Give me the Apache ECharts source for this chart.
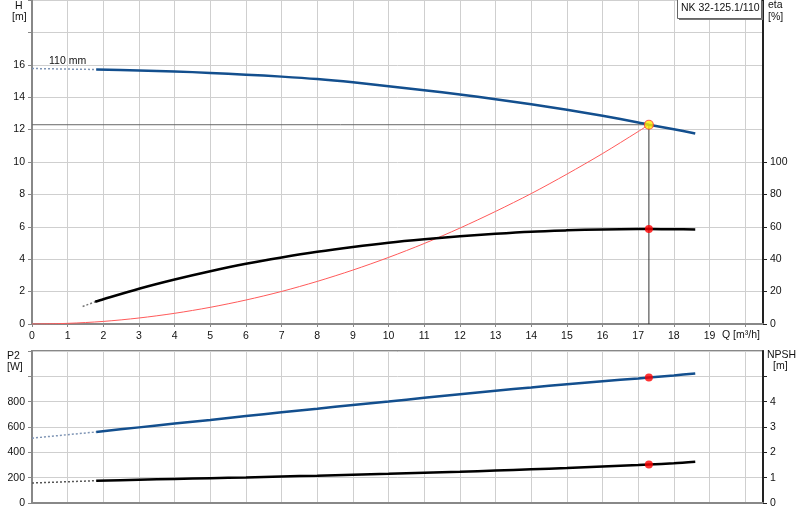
<!DOCTYPE html>
<html><head><meta charset="utf-8">
<script src="https://cdn.jsdelivr.net/npm/echarts@6/dist/echarts.min.js"></script>
<style>html,body{margin:0;padding:0;background:#fff}#c{width:800px;height:520px}</style>
</head><body><div id="c"></div><script>
// ---- data ----
const qTicks = [0,1,2,3,4,5,6,7,8,9,10,11,12,13,14,15,16,17,18,19];
const hTicks = [0,2,4,6,8,10,12,14,16];
const etaTicks = [0,20,40,60,80,100];
const p2Ticks = [0,200,400,600,800];
const npshTicks = [0,1,2,3,4];

const qCurve = [1.8,3,4,5,6,7,8,9,10,11,12,13,14,15,16,17,17.3,18,18.6];
const head   = [15.71,15.65,15.59,15.5,15.39,15.27,15.12,14.92,14.68,14.43,14.17,13.87,13.56,13.22,12.85,12.44,12.3,12.02,11.76];
const qHeadExt = [0,1.8];
const headExt  = [15.77,15.71];

const qEta = [1.77,2,3,4,5,6,7,8,9,10,11,12,13,14,15,16,17,17.3,18,18.6];
const eta  = [13.7,15.3,21.8,27.5,32.6,37.2,41.1,44.6,47.6,50.2,52.3,54.1,55.7,57.0,57.8,58.4,58.6,58.6,58.5,58.4];
const qEtaExt = [1.42,1.77];
const etaExt  = [10.8,13.7];

const qSys = [0,1,2,3,4,5,6,7,8,9,10,11,12,13,14,15,16,17,17.3];
const hSys = [0,0.04,0.16,0.37,0.66,1.03,1.48,2.01,2.63,3.33,4.11,4.97,5.92,6.95,8.05,9.25,10.52,11.88,12.3];

const p2     = [561,597,627,656,686,716,745,774,801,830,858,886,912,938,962,983,990,1007,1023];
const qP2Ext = [0,1.8];
const p2Ext  = [512,561];

const npsh    = [0.88,0.92,0.95,0.98,1.01,1.05,1.08,1.12,1.15,1.19,1.23,1.28,1.33,1.38,1.44,1.50,1.52,1.57,1.63];
const npshExt = [0.79,0.88];

const dutyQ = 17.3, dutyH = 12.3, dutyEta = 58.6, dutyP2 = 990, dutyNpsh = 1.52;

// ---- chart ----
const zip = (a,b) => a.map((v,i)=>[v,b[i]]);
const FONT = 'Liberation Sans, Arial, sans-serif';
const BLUE = '#134f8e';
const AX = '#888';
const GRIDC = '#cfcfcf';
const lbl = {color:'#111', fontSize:10.5, fontFamily:FONT};

const chart = echarts.init(document.getElementById('c'), null, {renderer:'canvas'});
const xBase = (gi, showLabels) => ({
  type:'value', gridIndex:gi, min:0, max:20.5, interval:1,
  axisLine:{show:true, onZero:false, lineStyle:{color:AX, width:2}},
  axisTick:{show:showLabels, length:3, lineStyle:{color:AX}, customValues:[...qTicks,20]},
  axisLabel:showLabels ? Object.assign({margin:7, customValues:qTicks}, lbl) : {show:false},
  splitLine:{show:true, lineStyle:{color:GRIDC, width:1}}
});

const line = (data, x, y, color, width, extra) => Object.assign({
  type:'line', xAxisIndex:x, yAxisIndex:y, data, symbol:'none', smooth:0.3,
  lineStyle:{color, width}, itemStyle:{color}, silent:true, animation:false
}, extra||{});

chart.setOption({
  animation:false,
  textStyle:{fontFamily:FONT},
  grid:[
    {left:32, right:37, top:0, height:324, show:true, borderColor:AX, borderWidth:1, backgroundColor:'transparent'},
    {left:32, right:37, top:351, height:152, show:true, borderColor:AX, borderWidth:2, backgroundColor:'transparent'}
  ],
  xAxis:[xBase(0,true), xBase(1,false)],
  yAxis:[
    {type:'value', gridIndex:0, min:0, max:20, interval:2,
     axisLine:{show:true, lineStyle:{color:AX, width:2}},
     axisTick:{show:true, length:4, lineStyle:{color:AX}},
     axisLabel:Object.assign({margin:7, customValues:hTicks}, lbl),
     splitLine:{show:true, lineStyle:{color:GRIDC}}},
    {type:'value', gridIndex:0, position:'right', min:0, max:200, interval:20,
     axisLine:{show:true, lineStyle:{color:'#222', width:2}},
     axisTick:{show:true, length:4, lineStyle:{color:'#222'}, customValues:etaTicks},
     axisLabel:Object.assign({margin:7, customValues:etaTicks}, lbl),
     splitLine:{show:false}},
    {type:'value', gridIndex:1, min:0, max:1200, interval:200,
     axisLine:{show:true, lineStyle:{color:AX, width:2}},
     axisTick:{show:true, length:4, lineStyle:{color:AX}},
     axisLabel:Object.assign({margin:7, customValues:p2Ticks}, lbl),
     splitLine:{show:true, lineStyle:{color:GRIDC}}},
    {type:'value', gridIndex:1, position:'right', min:0, max:6, interval:1,
     axisLine:{show:true, lineStyle:{color:'#222', width:2}},
     axisTick:{show:true, length:4, lineStyle:{color:'#222'}, customValues:[0,1,2,3,4,5]},
     axisLabel:Object.assign({margin:7, customValues:npshTicks}, lbl),
     splitLine:{show:false}}
  ],
  series:[
    line([[0,dutyH],[dutyQ,dutyH]], 0, 0, '#666', 1, {smooth:false, z:3}),
    line([[dutyQ,dutyH],[dutyQ,0]], 0, 0, '#333', 1, {smooth:false, z:3}),
    line(zip(qSys,hSys), 0, 0, '#ff5a5a', 1, {z:4}),
    line(zip(qHeadExt,headExt), 0, 0, '#7f95b5', 1.5, {smooth:false, lineStyle:{color:'#7f95b5', width:1.5, type:[2,2]}, z:4}),
    line(zip(qCurve,head), 0, 0, BLUE, 2.5, {z:5}),
    line(zip(qEtaExt,etaExt), 0, 1, '#777', 1.5, {smooth:false, lineStyle:{color:'#777', width:1.5, type:[2,2]}, z:4}),
    line(zip(qEta,eta), 0, 1, '#000', 2.5, {z:5}),
    line(zip(qP2Ext,p2Ext), 1, 2, '#7f95b5', 1.5, {smooth:false, lineStyle:{color:'#7f95b5', width:1.5, type:[2,2]}, z:4}),
    line(zip(qCurve,p2), 1, 2, BLUE, 2.5, {z:5}),
    line(zip(qP2Ext,npshExt), 1, 3, '#555', 1.5, {smooth:false, lineStyle:{color:'#555', width:1.5, type:[2,2]}, z:4}),
    line(zip(qCurve,npsh), 1, 3, '#000', 2.5, {z:5}),
    {type:'scatter', xAxisIndex:0, yAxisIndex:0, data:[[dutyQ,dutyH]], symbolSize:9,
     itemStyle:{color:'#ffee00', borderColor:'#ff3b3b', borderWidth:1.2}, z:10, silent:true},
    {type:'scatter', xAxisIndex:0, yAxisIndex:1, data:[[dutyQ,dutyEta]], symbolSize:8,
     itemStyle:{color:'#ff0000'}, z:10, silent:true},
    {type:'scatter', xAxisIndex:1, yAxisIndex:2, data:[[dutyQ,dutyP2]], symbolSize:8,
     itemStyle:{color:'#ff0000'}, z:10, silent:true},
    {type:'scatter', xAxisIndex:1, yAxisIndex:3, data:[[dutyQ,dutyNpsh]], symbolSize:8,
     itemStyle:{color:'#ff0000'}, z:10, silent:true}
  ],
  graphic:[
    {type:'text', left:15, top:1, style:{text:'H', font:'10.5px '+FONT, fill:'#111'}},
    {type:'text', left:12, top:12, style:{text:'[m]', font:'10.5px '+FONT, fill:'#111'}},
    {type:'text', left:768, top:0, style:{text:'eta', font:'10.5px '+FONT, fill:'#111'}},
    {type:'text', left:768, top:12, style:{text:'[%]', font:'10.5px '+FONT, fill:'#111'}},
    {type:'text', left:722, top:330, style:{text:'Q [m³/h]', font:'10.5px '+FONT, fill:'#111'}},
    {type:'text', left:7, top:351, style:{text:'P2', font:'10.5px '+FONT, fill:'#111'}},
    {type:'text', left:7, top:362, style:{text:'[W]', font:'10.5px '+FONT, fill:'#111'}},
    {type:'text', left:767, top:350, style:{text:'NPSH', font:'10.5px '+FONT, fill:'#111'}},
    {type:'text', left:773, top:361, style:{text:'[m]', font:'10.5px '+FONT, fill:'#111'}},
    {type:'text', left:49, top:56, style:{text:'110 mm', font:'10.5px '+FONT, fill:'#111'}},
    {type:'rect', left:679, top:1, shape:{width:84, height:19}, style:{fill:'#777'}, z:20},
    {type:'rect', left:677, top:-1, shape:{width:84, height:19}, style:{fill:'#fff', stroke:'#666', lineWidth:1}, z:21},
    {type:'text', left:681, top:3, style:{text:'NK 32-125.1/110', font:'10.5px '+FONT, fill:'#111'}, z:22}
  ]
});
</script></body></html>
